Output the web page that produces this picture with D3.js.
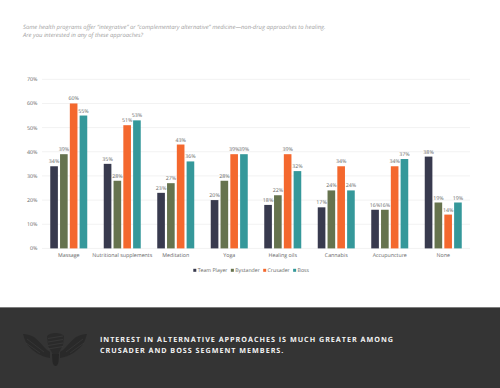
<!DOCTYPE html>
<html>
<head>
<meta charset="utf-8">
<script src="https://cdn.jsdelivr.net/npm/d3@7"></script>
<style>
    html, body { margin: 0; padding: 0; background: #fff; }
    svg { display: block; font-family: "Open Sans", sans-serif; text-rendering: geometricPrecision; }
    .grid line { stroke: #f2f2f2; }
    .axisLabel { font-size: 5.3px; fill: #666; }
    .valueLabel { font-size: 5.3px; fill: #666; text-anchor: middle; }
    .legendLabel { font-size: 5.2px; fill: #666; }
    .question { font-size: 5.85px; font-style: italic; fill: #a0a0a0; }
    .banner { font-size: 7.2px; font-weight: 700; fill: #f2f2f2; letter-spacing: 0.98px; }
</style>
</head>
<body>
<svg class="chart" width="500" height="388"></svg>
<script>
var categories = ["Massage", "Nutritional supplements", "Meditation", "Yoga", "Healing oils", "Cannabis", "Accupuncture", "None"];
var segments = ["Team Player", "Bystander", "Crusader", "Boss"];
var teamPlayer = [34, 35, 23, 20, 18, 17, 16, 38];
var bystander = [39, 28, 27, 28, 22, 24, 16, 19];
var crusader = [60, 51, 43, 39, 39, 34, 34, 14];
var boss = [55, 53, 36, 39, 32, 24, 37, 19];
var segmentValues = [teamPlayer, bystander, crusader, boss];
var segmentColors = ["#383a4e", "#66734e", "#f4682e", "#35989a"];
var yTicks = [0, 10, 20, 30, 40, 50, 60, 70];
var questionLines = [
    "Some health programs offer \u201cintegrative\u201d or \u201ccomplementary alternative\u201d medicine\u2014non-drug approaches to healing.",
    "Are you interested in any of these approaches?"
];
var bannerLines = [
    "INTEREST IN ALTERNATIVE APPROACHES IS MUCH GREATER AMONG",
    "CRUSADER AND BOSS SEGMENT MEMBERS."
];

var svg = d3.select(".chart");
var plot = {left: 42, right: 470, top: 79.3, bottom: 248.4};

svg.selectAll(".question")
        .data(questionLines)
        .enter().append("text")
        .attr("class", "question")
        .attr("x", 23)
        .attr("y", function (d, i) { return 28.7 + i * 7.8; })
        .text(function (d) { return d; });

var xRange = d3.scaleBand()
        .domain(categories)
        .range([plot.left, plot.right]);
var xInner = d3.scaleBand()
        .domain(segments)
        .range([0, 37])
        .paddingInner(0.22)
        .paddingOuter(0);
var yRange = d3.scaleLinear()
        .domain([0, 70])
        .range([plot.bottom, plot.top]);

svg.append("g")
        .attr("class", "grid")
        .selectAll("line")
        .data(yTicks)
        .enter().append("line")
        .attr("x1", plot.left)
        .attr("x2", plot.right)
        .attr("y1", function (d) { return yRange(d); })
        .attr("y2", function (d) { return yRange(d); });

svg.append("g")
        .selectAll("text")
        .data(yTicks)
        .enter().append("text")
        .attr("class", "axisLabel")
        .attr("x", 37.5)
        .attr("y", function (d) { return yRange(d) + 1.9; })
        .style("text-anchor", "end")
        .text(function (d) { return d + "%"; });

svg.append("g")
        .selectAll("text")
        .data(categories)
        .enter().append("text")
        .attr("class", "axisLabel")
        .attr("x", function (d) { return xRange(d) + xRange.bandwidth() / 2; })
        .attr("y", 257.3)
        .style("text-anchor", "middle")
        .text(function (d) { return d; });

var groupOffset = (xRange.bandwidth() - xInner.range()[1]) / 2;

segments.forEach(function (segment, s) {
    var group = svg.append("g").attr("class", "segment");
    group.selectAll("rect")
            .data(segmentValues[s])
            .enter().append("rect")
            .attr("x", function (d, i) { return xRange(categories[i]) + groupOffset + xInner(segment); })
            .attr("y", function (d) { return yRange(d); })
            .attr("width", xInner.bandwidth())
            .attr("height", function (d) { return plot.bottom - yRange(d); })
            .attr("fill", segmentColors[s]);
    group.selectAll("text")
            .data(segmentValues[s])
            .enter().append("text")
            .attr("class", "valueLabel")
            .attr("x", function (d, i) { return xRange(categories[i]) + groupOffset + xInner(segment) + xInner.bandwidth() / 2; })
            .attr("y", function (d) { return yRange(d) - 3; })
            .text(function (d) { return d + "%"; });
});

// legend, placed one item after another from measured label widths
var legendX = 193.3;
segments.forEach(function (segment, s) {
    svg.append("rect")
            .attr("x", legendX)
            .attr("y", 268.8)
            .attr("width", 3)
            .attr("height", 3)
            .attr("fill", segmentColors[s]);
    var label = svg.append("text")
            .attr("class", "legendLabel")
            .attr("x", legendX + 4.4)
            .attr("y", 272.2)
            .text(segment);
    legendX += 4.4 + label.node().getComputedTextLength() + 3.4;
});

// bottom banner
svg.append("rect")
        .attr("x", 0)
        .attr("y", 307)
        .attr("width", 500)
        .attr("height", 81)
        .attr("fill", "#343434");
svg.append("rect")
        .attr("x", 0)
        .attr("y", 307)
        .attr("width", 500)
        .attr("height", 1)
        .attr("fill", "#7d7d7d");

// winged light bulb emblem
var logo = svg.append("g")
        .attr("transform", "translate(55,0)");
[1, -1].forEach(function (side) {
    var wing = logo.append("g").attr("transform", "scale(" + side + ",1)");
    wing.append("path")
            .attr("d", "M5,358 C14,357 24,350 28,344 C30,341 31,337 32,334 C29,334 25,335 21,337 C17,340 14,344 11,347 C9,349 7,351 5,352 Z")
            .attr("fill", "#292929");
    [[11, 352, 28, 339], [15, 353, 29, 343]].forEach(function (f) {
        wing.append("line")
                .attr("x1", f[0]).attr("y1", f[1])
                .attr("x2", f[2]).attr("y2", f[3])
                .attr("stroke", "#3c3c3c")
                .attr("stroke-width", 0.6);
    });
});
logo.append("path")
        .attr("d", "M-8,336 C-5,332 6,332 9,336 L8,345 C6,349 4,351 3.5,354 L-2.5,354 C-3,351 -6,349 -7,345 Z")
        .attr("fill", "#2a2a2a");
[337, 340.5, 344, 347.5].forEach(function (y) {
    logo.append("line")
            .attr("x1", -7).attr("y1", y + 1.5)
            .attr("x2", 8).attr("y2", y - 1)
            .attr("stroke", "#3c3c3c")
            .attr("stroke-width", 0.7);
});
logo.append("path")
        .attr("d", "M-3,354 L4,354 L3.5,362 C3,364 2,366 0.5,366 C-1,366 -2,364 -2.5,362 Z")
        .attr("fill", "#262626");

svg.selectAll(".banner")
        .data(bannerLines)
        .enter().append("text")
        .attr("class", "banner")
        .attr("x", 100)
        .attr("y", function (d, i) { return 342 + i * 11.4; })
        .text(function (d) { return d; });
</script>
</body>
</html>
